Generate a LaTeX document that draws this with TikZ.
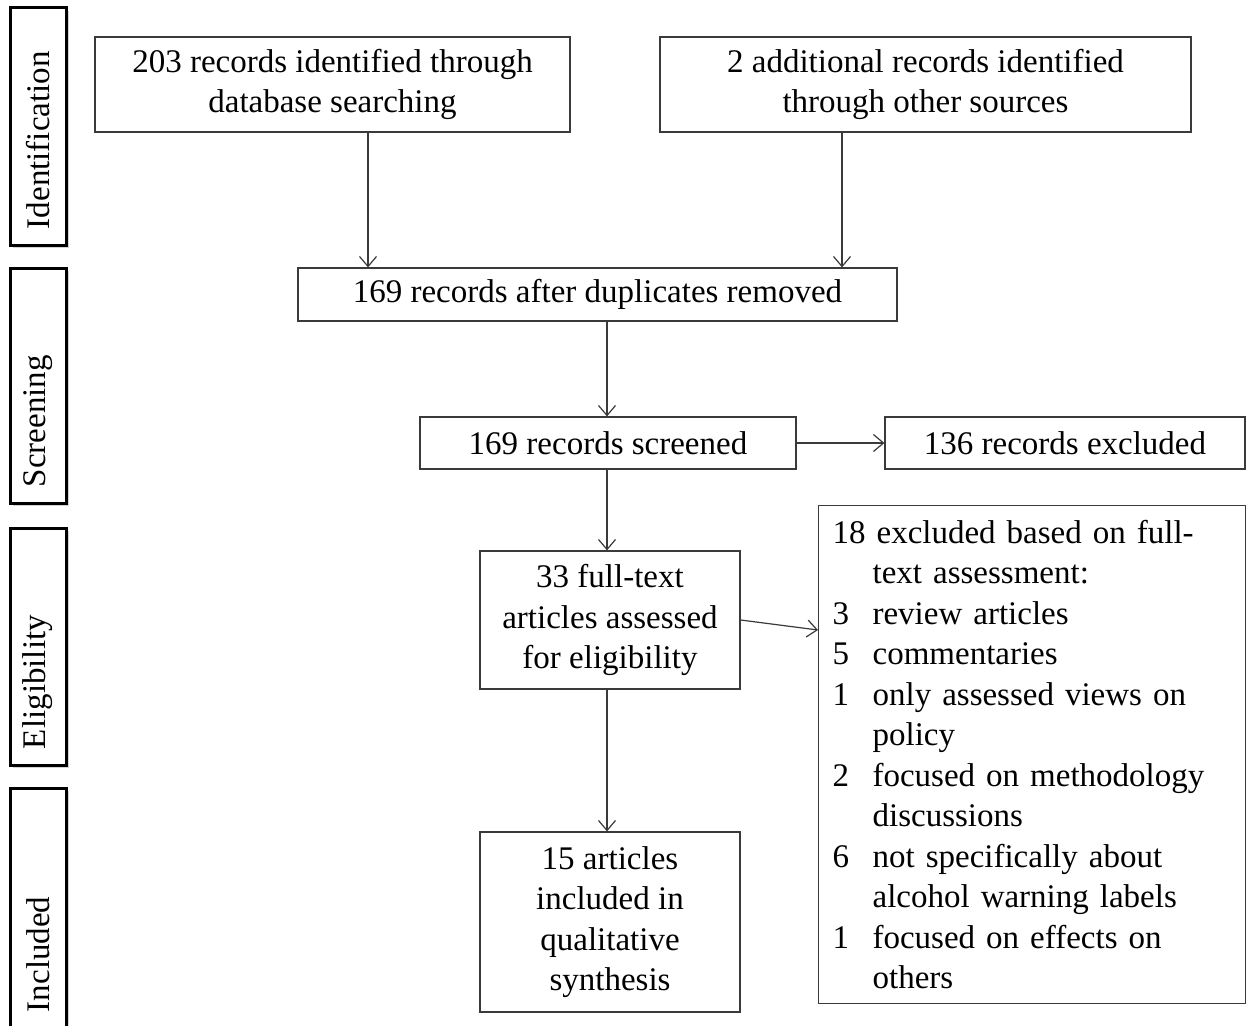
\documentclass[tikz,border=0pt]{standalone}
\usepackage{fontspec}
\setmainfont{Liberation Serif}
\usetikzlibrary{arrows.meta,shadows}
\definecolor{ln}{HTML}{3A3A3A}
\begin{document}
\begin{tikzpicture}[x=1pt,y=-1pt,
  box/.style={draw=ln, line width=1.2pt, inner sep=0pt, align=center, font=\fontsize{33}{40.5}\selectfont},
  phase/.style={draw=black, line width=3pt, inner ysep=0pt, inner xsep=16pt, rotate=90, fill=white,
    align=left, minimum height=56,
    drop shadow={shadow xshift=3pt, shadow yshift=-3pt, opacity=0.35},
    font=\fontsize{33}{40.5}\selectfont},
  arr/.style={draw=ln, line width=1.2pt, -{Straight Barb[length=10pt,width=17pt,line width=1.2pt]}}
]
\useasboundingbox (0,0) rectangle (1247,1025);
% phase labels
\node[phase, text width=205] (p1) at (38,126.5) {Identification};
\node[phase, text width=203] (p2) at (38,385.5) {Screening};
\node[phase, text width=205] (p3) at (38,646.5) {Eligibility};
\node[phase, text width=208] (p4) at (38,908) {Included};
% boxes
\node[box, minimum width=475, minimum height=95] (a) at (332.5,84.5) {203 records identified through\\database searching};
\node[box, minimum width=531, minimum height=95] (b) at (925.5,84.5) {2 additional records identified\\through other sources};
\node[box, minimum width=599, minimum height=53] (c) at (597.5,294.5) {169 records after duplicates removed};
\node[box, minimum width=376, minimum height=52] (d) at (608,443) {169 records screened};
\node[box, minimum width=360, minimum height=52] (e) at (1065,443) {136 records excluded};
\node[box, minimum width=260, minimum height=138] (f) at (610,620) {33 full-text\\articles assessed\\for eligibility};
\node[box, minimum width=260, minimum height=180] (h) at (610,922) {15 articles\\included in\\qualitative\\synthesis};
\node[box, anchor=north west, text width=399, minimum height=498, inner xsep=14, align=left] (g) at (818,505) {%
18 excluded based on full-\\
\hspace*{40pt}text assessment:\\
\makebox[40pt][l]{3}review articles\\
\makebox[40pt][l]{5}commentaries\\
\makebox[40pt][l]{1}only assessed views on\\
\hspace*{40pt}policy\\
\makebox[40pt][l]{2}focused on methodology\\
\hspace*{40pt}discussions\\
\makebox[40pt][l]{6}not specifically about\\
\hspace*{40pt}alcohol warning labels\\
\makebox[40pt][l]{1}focused on effects on\\
\hspace*{40pt}others};
% arrows
\draw[arr] (a.south -| 368,0) -- (c.north -| 368,0);
\draw[arr] (b.south -| 842,0) -- (c.north -| 842,0);
\draw[arr] (c.south -| 607,0) -- (d.north -| 607,0);
\draw[arr] (d.east) -- (e.west);
\draw[arr] (d.south -| 607,0) -- (f.north -| 607,0);
\draw[arr] (f.east) -- (g.west |- 0,630);
\draw[arr] (f.south -| 607,0) -- (h.north -| 607,0);
\end{tikzpicture}
\end{document}
